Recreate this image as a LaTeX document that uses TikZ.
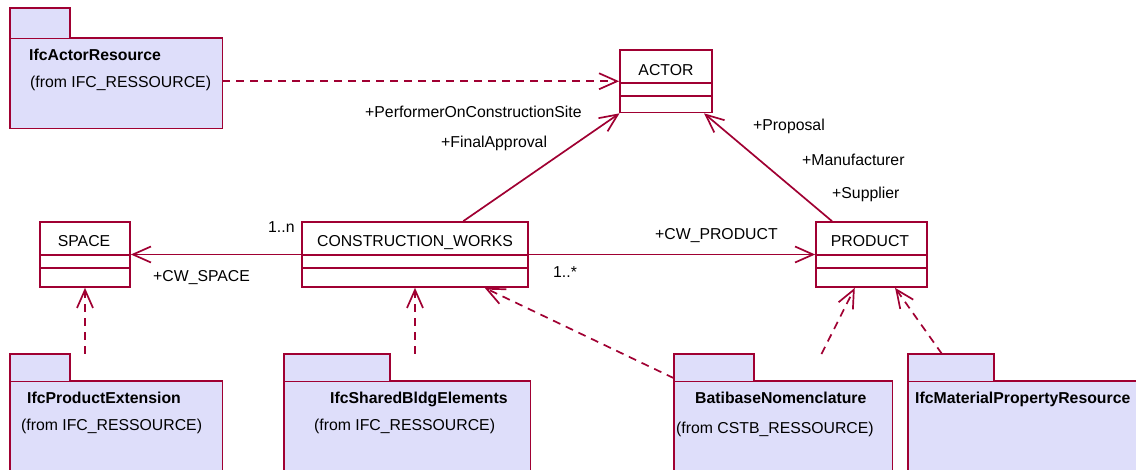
\documentclass[tikz,border=0pt]{standalone}
\usepackage{fontspec}
\setmainfont{Liberation Sans}
\usetikzlibrary{arrows.meta}
\definecolor{umlred}{RGB}{160,0,50}
\definecolor{pkgblue}{RGB}{222,222,250}
\begin{document}
\begin{tikzpicture}
  [x=1pt,y=-1pt,every node/.style={inner sep=0pt,font=\fontsize{15.8}{19}\selectfont},
   cls/.style={draw=umlred,line width=1.7pt,fill=white},
   pkg/.style={anchor=north west},
   pkgline/.style={draw=umlred,line width=1.7pt,fill=pkgblue},
   txt/.style={anchor=base west},
   pkgtitle/.style={txt,font=\fontsize{15.8}{19}\selectfont\bfseries},
   assoc/.style={umlred,line width=1.7pt,-{Straight Barb[length=18pt,width=16pt]}},
   dep/.style={assoc,dash pattern=on 8pt off 6pt}]
    \path[use as bounding box,clip] (0,0) rectangle (1136,470);

    % packages
    \node (actres)   [pkg,minimum width=212,minimum height=120] at (10,8)   {};
    \node (prodext)  [pkg,minimum width=212,minimum height=152] at (10,354)  {};
    \node (shared)   [pkg,minimum width=246,minimum height=152] at (284,354) {};
    \node (batibase) [pkg,minimum width=218,minimum height=152] at (674,354) {};
    \node (material) [pkg,minimum width=250,minimum height=152] at (908,354) {};

    \foreach \p/\t/\h in {actres/60/30,prodext/60/27,shared/106/27,batibase/80/27,material/86/27}{
      \draw[pkgline] (\p.south west) -- (\p.north west) -- ++(\t,0) -- ++(0,\h) -| (\p.south east) -- cycle;
      \draw[umlred,line width=0.6pt] (\p.north west) ++(0,\h) -- ++(\t,0);
    }

    \node (actresname)   [pkgtitle] at (29,61)   {IfcActorResource};
    \node (actresfrom)   [txt]      at (30,88)   {(from IFC\_RESSOURCE)};
    \node (prodextname)  [pkgtitle] at (27,404)  {IfcProductExtension};
    \node (prodextfrom)  [txt]      at (21,431)  {(from IFC\_RESSOURCE)};
    \node (sharedname)   [pkgtitle] at (330,404) {IfcSharedBldgElements};
    \node (sharedfrom)   [txt]      at (314,431) {(from IFC\_RESSOURCE)};
    \node (batibasename) [pkgtitle] at (695,404) {BatibaseNomenclature};
    \node (batibasefrom) [txt]      at (676,433) {(from CSTB\_RESSOURCE)};
    \node (materialname) [pkgtitle] at (915,404) {IfcMaterialPropertyResource};

    % classes
    \node (actor)   [cls,minimum width=92,minimum height=62.5] at (666,81.25) {};
    \node (space)   [cls,minimum width=90,minimum height=65]   at (85,254.5)  {};
    \node (cw)      [cls,minimum width=226,minimum height=65]  at (415,254.5) {};
    \node (product) [cls,minimum width=111,minimum height=65]  at (871.5,254.5) {};

    \foreach \c in {actor,space,cw,product}{
      \draw[umlred,line width=1.7pt] ([yshift=-34pt]\c.north west) -- ([yshift=-34pt]\c.north east);
      \draw[umlred,line width=1.7pt] ([yshift=-47pt]\c.north west) -- ([yshift=-47pt]\c.north east);
    }

    \node (actorname)   [anchor=base] at (666,76)  {ACTOR};
    \node (spacename)   [anchor=base] at (84,247)  {SPACE};
    \node (cwname)      [anchor=base] at (415,247) {CONSTRUCTION\_WORKS};
    \node (productname) [anchor=base] at (870,247) {PRODUCT};

    % associations
    \foreach \from/\to in {cw/actor,product/actor,cw/space,cw/product}
      \draw[assoc] (\from) -- (\to);

    % dependencies
    \draw[dep] (actres.east |- actor) -- (actor.west);
    \draw[dep] (prodext.north -| space) -- (space);
    \draw[dep] (shared.north -| cw) -- (cw);
    \draw[dep] (batibase) -- (cw);
    \draw[dep] (batibase) -- (product);
    \draw[dep] ([xshift=34pt]material.north west) -- (product);

    % roles
    \node (r1) [txt] at (365,118) {+PerformerOnConstructionSite};
    \node (r2) [txt] at (441,148) {+FinalApproval};
    \node (r3) [txt] at (753,131) {+Proposal};
    \node (r4) [txt] at (802,166) {+Manufacturer};
    \node (r5) [txt] at (832,199) {+Supplier};
    \node (r6) [txt] at (268,233) {1..n};
    \node (r7) [txt] at (153,282) {+CW\_SPACE};
    \node (r8) [txt] at (655,240) {+CW\_PRODUCT};
    \node (r9) [txt] at (553,278) {1..*};
  \end{tikzpicture}
\end{document}
